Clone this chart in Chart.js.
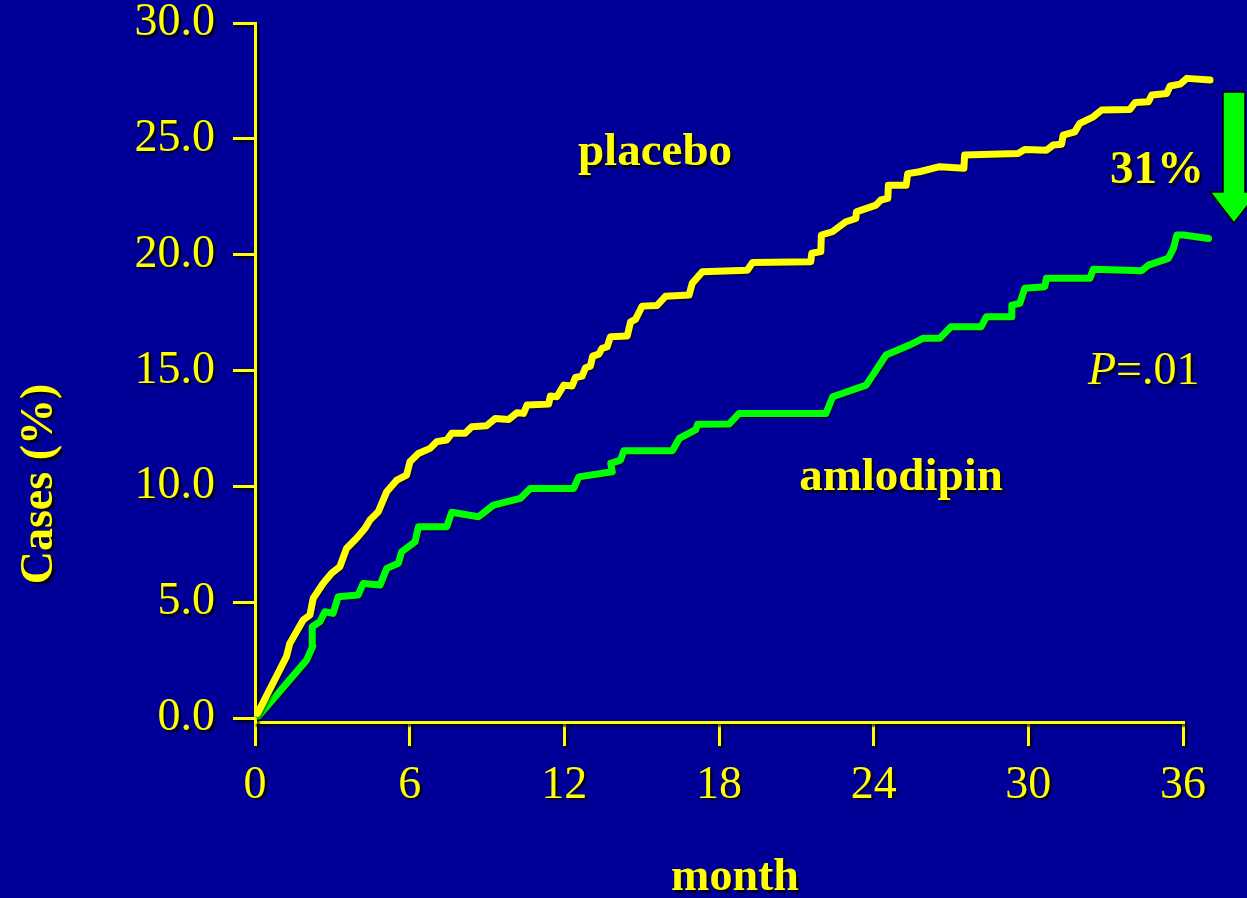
<!DOCTYPE html>
<html>
<head>
<meta charset="utf-8">
<title>Cases (%) by month: placebo vs amlodipin</title>
<script src="https://cdn.jsdelivr.net/npm/chart.js@4/dist/chart.umd.min.js"></script>
<style>
  html, body { margin: 0; padding: 0; background: #000099; }
  #wrap { width: 1247px; height: 898px; }
</style>
</head>
<body>
<div id="wrap"><canvas id="chart" width="1247" height="898"></canvas></div>
<script>
// Cumulative cases (%) over follow-up, in months
const placeboMonth = [
  0.1, 1.22, 1.35, 1.87, 2.13, 2.26, 2.64, 2.97, 3.29, 3.55, 3.94, 4.27, 4.46, 4.78,
  5.11, 5.5, 5.88, 6.01, 6.34, 6.79, 7.05, 7.44, 7.63, 8.15, 8.41, 8.99, 9.32, 9.84,
  10.16, 10.42, 10.55, 11.39, 11.46, 11.71, 11.98, 12.3, 12.43, 12.69, 12.82, 13.01,
  13.1, 13.34, 13.46, 13.66, 13.79, 14.44, 14.57, 14.76, 15.02, 15.6, 15.93, 16.84,
  16.96, 17.35, 19.1, 19.3, 21.56, 21.6, 21.95, 21.97, 22.4, 22.92, 23.31, 23.33,
  24.09, 24.28, 24.55, 24.57, 25.26, 25.32, 25.78, 26.56, 27.5, 27.53, 29.6, 29.86,
  30.7, 30.96, 31.29, 31.35, 31.8, 32.0, 32.26, 32.52, 32.84, 33.94, 34.14, 34.66,
  34.79, 35.37, 35.5, 35.89, 36.15, 37.05
];
const placeboPct = [
  0.2, 2.65, 3.22, 4.23, 4.45, 5.17, 5.81, 6.25, 6.53, 7.32, 7.76, 8.19, 8.55, 8.9,
  9.77, 10.27, 10.49, 11.06, 11.42, 11.64, 11.93, 12.0, 12.29, 12.29, 12.57, 12.62, 12.93, 12.89,
  13.18, 13.15, 13.51, 13.55, 13.9, 13.87, 14.37, 14.33, 14.7, 14.76, 15.12, 15.19,
  15.62, 15.71, 15.96, 16.02, 16.46, 16.49, 17.1, 17.21, 17.78, 17.81, 18.21, 18.26,
  18.76, 19.26, 19.33, 19.66, 19.7, 20.06, 20.13, 20.85, 20.99, 21.42, 21.56, 21.85,
  22.14, 22.36, 22.43, 23.0, 23.0, 23.5, 23.58, 23.8, 23.73, 24.3, 24.37, 24.54,
  24.51, 24.73, 24.77, 25.16, 25.3, 25.67, 25.81, 25.95, 26.24, 26.27, 26.57, 26.6,
  26.89, 26.96, 27.28, 27.36, 27.61, 27.54
];
const amlodipinMonth = [
  0.15, 2.0, 2.24, 2.22, 2.52, 2.71, 3.03, 3.23, 4.0, 4.2, 4.85, 5.11, 5.56, 5.69,
  6.21, 6.34, 7.44, 7.63, 8.67, 9.25, 10.29, 10.68, 12.36, 12.56, 13.86, 13.8, 14.18,
  14.31, 16.19, 16.46, 17.1, 17.17, 18.39, 18.78, 22.15, 22.41, 23.71, 24.48, 25.39,
  25.91, 26.56, 27.0, 28.17, 28.37, 29.34, 29.36, 29.67, 29.86, 30.64, 30.7, 32.39,
  32.52, 34.4, 34.66, 35.43, 35.63, 35.76, 36.02, 36.99
];
const amlodipinPct = [
  0.1, 2.5, 3.1, 3.94, 4.16, 4.59, 4.52, 5.24, 5.31, 5.81, 5.74, 6.46, 6.68, 7.18,
  7.61, 8.26, 8.26, 8.88, 8.69, 9.19, 9.48, 9.91, 9.91, 10.41, 10.63, 10.99, 11.13,
  11.54, 11.54, 12.07, 12.45, 12.68, 12.69, 13.15, 13.15, 13.87, 14.37, 15.67, 16.1,
  16.39, 16.39, 16.89, 16.89, 17.32, 17.32, 17.82, 17.9, 18.55, 18.62, 18.98, 18.98,
  19.37, 19.31, 19.55, 19.84, 20.27, 20.85, 20.85, 20.7
];
const monthTicks = [0, 6, 12, 18, 24, 30, 36];
const caseTicks = [0, 5, 10, 15, 20, 25, 30];

const BG = '#000099';
const YELLOW = '#ffff00';
const GREEN = '#00ff00';
const SERIF = '"Liberation Serif", "Times New Roman", serif';

const toPoints = (xs, ys) => xs.map((x, i) => ({ x: x, y: ys[i] }));

function setShadow(ctx, dx, dy, blur, color) {
  ctx.shadowOffsetX = dx;
  ctx.shadowOffsetY = dy;
  ctx.shadowBlur = blur;
  ctx.shadowColor = color;
}

// Slide background plus drop shadows for axes and curves
const slideStyle = {
  id: 'slideStyle',
  beforeDraw(chart) {
    const ctx = chart.ctx;
    ctx.save();
    ctx.fillStyle = BG;
    ctx.fillRect(0, 0, chart.width, chart.height);
    setShadow(ctx, 2.5, 2.5, 2, 'rgba(0,0,0,0.8)');
  },
  beforeDatasetsDraw(chart) {
    const ctx = chart.ctx;
    ctx.restore();
    ctx.save();
    setShadow(ctx, 1.5, 1.5, 1.5, 'rgba(0,0,0,0.45)');
  },
  afterDatasetsDraw(chart) {
    chart.ctx.restore();
  }
};

// Series names, axis titles, reduction arrow and p value
const slideNotes = {
  id: 'slideNotes',
  afterDraw(chart) {
    const ctx = chart.ctx;
    ctx.save();
    setShadow(ctx, 2.5, 2.5, 2, 'rgba(0,0,0,0.8)');
    ctx.fillStyle = YELLOW;
    ctx.textBaseline = 'alphabetic';

    ctx.font = 'bold 47px ' + SERIF;
    ctx.textAlign = 'center';
    ctx.fillText('placebo', 655, 165);
    ctx.fillText('amlodipin', 901, 490);
    ctx.fillText('31%', 1157, 183);

    ctx.font = 'bold 46px ' + SERIF;
    ctx.fillText('month', 735, 890);

    ctx.save();
    ctx.translate(52, 484);
    ctx.rotate(-Math.PI / 2);
    ctx.fillText('Cases (%)', 0, 0);
    ctx.restore();

    // P=.01 with italic P
    ctx.textAlign = 'left';
    let px = 1088;
    ctx.font = 'italic 46px ' + SERIF;
    ctx.fillText('P', px, 384);
    px += ctx.measureText('P').width;
    ctx.font = '46px ' + SERIF;
    ctx.fillText('=.01', px, 384);

    // downward arrow marking the reduction
    setShadow(ctx, 0, 0, 0, 'rgba(0,0,0,0)');
    ctx.beginPath();
    ctx.moveTo(1223, 92);
    ctx.lineTo(1245, 92);
    ctx.lineTo(1245, 192);
    ctx.lineTo(1258, 192);
    ctx.lineTo(1234, 223);
    ctx.lineTo(1210, 192);
    ctx.lineTo(1223, 192);
    ctx.closePath();
    ctx.fillStyle = GREEN;
    ctx.fill();
    ctx.lineWidth = 1.5;
    ctx.strokeStyle = '#000000';
    ctx.stroke();
    ctx.restore();
  }
};

const lineStyle = {
  showLine: true,
  pointRadius: 0,
  pointHoverRadius: 0,
  borderWidth: 7,
  borderJoinStyle: 'round',
  borderCapStyle: 'round',
  tension: 0,
  clip: false
};

new Chart(document.getElementById('chart'), {
  type: 'scatter',
  data: {
    datasets: [
      Object.assign({ label: 'placebo', data: toPoints(placeboMonth, placeboPct), borderColor: YELLOW, backgroundColor: YELLOW }, lineStyle),
      Object.assign({ label: 'amlodipin', data: toPoints(amlodipinMonth, amlodipinPct), borderColor: GREEN, backgroundColor: GREEN }, lineStyle)
    ]
  },
  options: {
    responsive: false,
    animation: false,
    events: [],
    layout: { padding: { left: 0, top: 23, right: 64, bottom: 0 } },
    plugins: {
      legend: { display: false },
      tooltip: { enabled: false },
      title: { display: false }
    },
    scales: {
      x: {
        type: 'linear',
        position: 'bottom',
        bounds: 'data',
        afterDataLimits(scale) { scale.min = monthTicks[0]; scale.max = monthTicks[monthTicks.length - 1]; },
        afterBuildTicks(scale) {
          scale.ticks = monthTicks.map(v => ({ value: v }));
          scale.min = monthTicks[0];
          scale.max = monthTicks[monthTicks.length - 1];
        },
        afterFit(scale) {
          scale.height = 898 - 722;
          scale.paddingLeft = 0;
          scale.paddingRight = 0;
        },
        border: { display: true, color: YELLOW, width: 3 },
        grid: { display: true, drawOnChartArea: false, drawTicks: true, tickLength: 24, color: YELLOW, lineWidth: 3 },
        ticks: {
          color: YELLOW,
          padding: 12,
          maxRotation: 0,
          autoSkip: false,
          font: { family: SERIF, size: 46 },
          callback: v => String(v)
        },
        title: { display: false }
      },
      y: {
        type: 'linear',
        position: 'left',
        min: -0.17,
        max: 30,
        afterBuildTicks(scale) { scale.ticks = caseTicks.map(v => ({ value: v })); },
        afterFit(scale) {
          scale.width = 255;
          scale.paddingTop = 0;
          scale.paddingBottom = 0;
        },
        border: { display: true, color: YELLOW, width: 3 },
        grid: { display: true, drawOnChartArea: false, drawTicks: true, tickLength: 22, color: YELLOW, lineWidth: 3 },
        ticks: {
          color: YELLOW,
          padding: 18,
          autoSkip: false,
          font: { family: SERIF, size: 46, lineHeight: 1 },
          callback: v => Number(v).toFixed(1)
        },
        title: { display: false }
      }
    }
  },
  plugins: [slideStyle, slideNotes]
});
</script>
</body>
</html>
